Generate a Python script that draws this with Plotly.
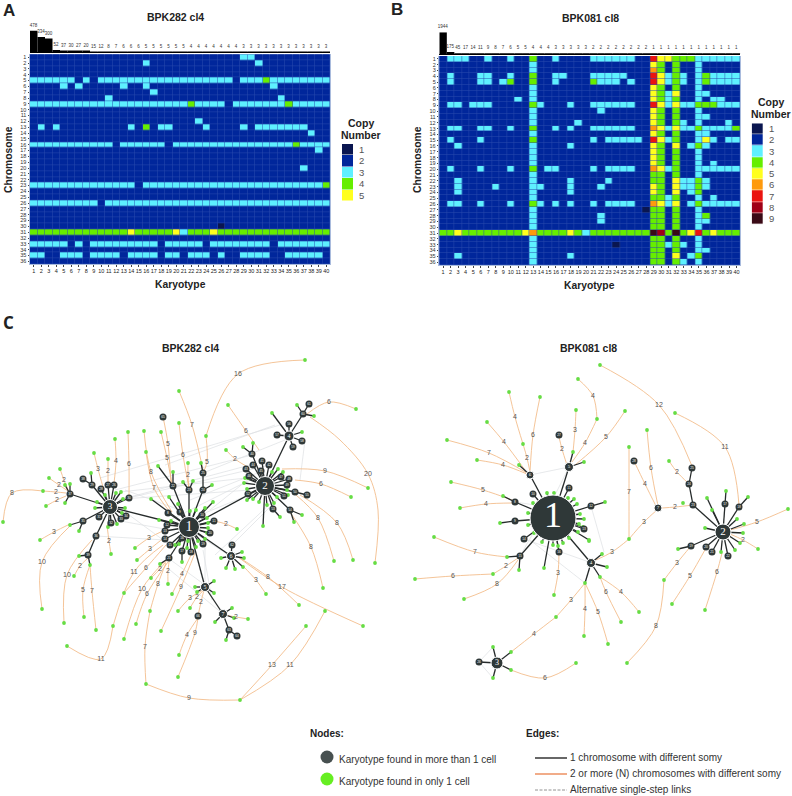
import plotly.graph_objects as go

# copy number per chromosome (rows) and karyotype (columns), blocks of 10 columns
ALL2 = "2222222222 2222222222 2222222222 2222222222"
COPY_A = [
    "2222222222 2222222222 2222222233 2222222222",
    "2222222222 2222232222 2222222222 3222222222",
    ALL2,
    ALL2,
    "3333332323 3333333333 3333333233 3433333333",
    "2222323222 2232232222 2222222222 2232222222",
    "2222222222 2222223222 2222222222 2222222222",
    "2222222222 3222222222 2222222222 2223222222",
    "3333333333 3333333333 3433332333 3333433333",
    ALL2,
    ALL2,
    "2222222222 2222222222 2232222222 2222222222",
    "2323222222 2223242332 2223222232 3333333222",
    "2222222222 2222222222 2222222222 2222222322",
    ALL2,
    "3333333333 3233333323 3333333333 3333343333",
    "2222222222 2222222222 2222222222 2222222232",
    ALL2,
    ALL2,
    "2222222222 2222222222 2222222222 2222223222",
    ALL2,
    ALL2,
    "3333333333 3333233333 3333333333 3333333334",
    ALL2,
    ALL2,
    "3333333332 3333333333 3333333333 3333333333",
    ALL2,
    ALL2,
    ALL2,
    "2222222222 2222222222 2222212222 2222222222",
    "4444444444 4445444445 3444544444 4444444444",
    ALL2,
    "3333323233 3333333233 3332333333 3323333333",
    ALL2,
    "3322333233 3323333233 2333232233 3322333332",
    ALL2,
]

COPY_B = [
    "2333223223 2242232222 3333332275 5444333333",
    "2222222222 2232222222 2222222254 2422322222",
    "2222222222 2232222222 2222222264 2422322222",
    "2322233223 2242233222 3333322275 3432343333",
    "2322233234 2242232222 4333232275 3432343333",
    "2222222222 2232222222 2222222254 2422322222",
    "2222222222 2232222222 2222222254 3522332222",
    "2222222222 3232222222 2222222254 3422323322",
    "2332333222 2243222322 3333332275 3533444333",
    "2222222222 2232222222 2322222254 2422322222",
    "2222222222 2232222222 2222222254 2422332222",
    "2222222222 2232222232 2222222254 2432322232",
    "2332233223 2242232322 3333332265 3533433334",
    "2222222222 2232222222 2222222254 2422332222",
    "2322232222 2242222222 3233333275 3422353233",
    "2232222222 2232222322 2222222254 2523432222",
    "2222222222 2232222222 2222222254 2422322222",
    "2222222222 2232222222 2222222254 2422322222",
    "2222222222 2232222222 2222222254 2422323222",
    "2322232223 2242332222 3233332265 3422333333",
    "2222222222 2232222222 2222222244 2422322222",
    "2232222222 2232222322 2232222244 2533432222",
    "2232222322 2233222322 2322222254 2533432222",
    "2232222222 2232222322 2222222254 2523422222",
    "2222222222 2232222222 2222222244 3422323222",
    "2332232223 2243232322 3233332265 3523433333",
    "2222222222 2232222222 2222222144 2422322222",
    "2222222222 2232222222 2322222244 2422342222",
    "2222222222 2232222222 2322222244 2422332222",
    "2222222222 2232222222 2222222244 2422322222",
    "4454444444 4564444543 4444444498 4945745444",
    "2222222222 2232222222 2222222244 2422322222",
    "2222222222 2232222222 2221222244 3432322222",
    "2222222222 2232222222 2222222244 2422332222",
    "2232222222 2232222322 2222222244 2523422222",
    "2222222222 2232222222 2222222244 2432322222",
]

# cells per karyotype
CELLS_A = [478, 334, 300, 52, 37, 30, 27, 20, 15, 12, 8, 7, 6, 6, 6, 5, 5, 5, 5, 5, 5,
           4, 4, 4, 4, 4, 4, 4, 3, 3, 3, 3, 3, 3, 3, 3, 3, 3, 3, 3]
CELLS_B = [1944, 175, 45, 17, 14, 11, 9, 8, 7, 6, 5, 5, 4, 4, 4, 3, 3, 3, 3, 3,
           2, 2, 2, 2, 2, 2, 2, 2, 1, 1, 1, 1, 1, 1, 1, 1, 1, 1, 1, 1]

KARYOTYPES = list(range(1, 41))
CHROMOSOMES = list(range(1, 37))
COPY_COLORS = ["#0a1650", "#00269b", "#5ef0ff", "#66ee00", "#ffff1e",
               "#ff9a0c", "#ea1410", "#a00016", "#3a0a16"]

# network A, positions
HUBS_A = [(189, 527), (265, 486), (110, 507), (289, 436), (205, 587), (231, 556), (223, 614)]
HUB_SIZES_A = [21, 19, 15, 10, 9, 9, 9]
HUB_FONT_A = [14, 11, 9, 6, 6, 6, 6]

DARK_LINKS_A = {
    (189, 527): [(168, 513), (180, 512), (202, 515), (214, 521), (167, 525), (165, 531), (165, 539),
                 (170, 545), (182, 538), (182, 551), (191, 552), (203, 544), (210, 533), (169, 558),
                 (110, 507), (265, 486), (231, 556), (205, 587), (173, 486), (189, 490), (203, 490)],
    (203, 490): [(203, 473)],
    (110, 507): [(114, 485), (108, 485), (101, 489), (92, 485), (129, 498), (99, 517), (111, 523),
                 (121, 519), (126, 516), (83, 521), (96, 536), (70, 494)],
    (92, 485): [(83, 479)],
    (96, 536): [(88, 555)],
    (265, 486): [(252, 454), (262, 461), (269, 465), (246, 469), (253, 465), (261, 471), (249, 476),
                 (281, 477), (289, 479), (287, 485), (295, 492), (284, 496), (248, 494), (273, 509),
                 (290, 510), (289, 436)],
    (295, 492): [(307, 495)],
    (289, 436): [(289, 424), (277, 435), (302, 441), (293, 447), (303, 414)],
    (303, 414): [(309, 404)],
    (231, 556): [(232, 545)],
    (205, 587): [(223, 614)],
    (223, 614): [(229, 630)],
    (229, 630): [(237, 636)],
}
GREEN_LINKS_A = {
    (189, 527): [(169, 497), (178, 504), (190, 511), (196, 510), (205, 508), (171, 521), (207, 518),
                 (208, 523), (208, 528), (207, 533), (205, 539), (198, 541), (196, 547), (188, 541),
                 (187, 548), (179, 544), (175, 545), (159, 520), (213, 502), (151, 499)],
    (173, 486): [(158, 466), (173, 472)],
    (189, 490): [(183, 482), (193, 481)],
    (203, 490): [(212, 485)],
    (203, 473): [(201, 463)],
    (169, 558): [(160, 564)],
    (182, 551): [(182, 562)],
    (110, 507): [(116, 493), (121, 492), (123, 499), (125, 508), (122, 513), (117, 524), (108, 527),
                 (95, 508), (97, 502), (105, 495)],
    (92, 485): [(91, 473)],
    (83, 521): [(70, 525), (79, 531)],
    (88, 555): [(79, 556), (90, 565)],
    (70, 494): [(65, 485), (70, 484), (65, 503)],
    (265, 486): [(278, 469), (283, 472), (272, 472), (245, 478), (244, 483), (247, 489), (253, 499),
                 (247, 500), (259, 502), (267, 505), (274, 503), (263, 526), (277, 497), (288, 495),
                 (287, 490), (248, 478)],
    (252, 454): [(243, 447), (253, 443)],
    (273, 509): [(280, 517)],
    (290, 510): [(302, 515), (294, 522)],
    (289, 436): [(272, 413), (302, 432)],
    (303, 414): [(314, 416), (297, 405)],
    (231, 556): [(221, 558), (226, 568), (235, 569), (243, 567), (244, 558), (242, 552)],
    (205, 587): [(195, 587), (214, 581), (214, 593), (197, 592)],
    (223, 614): [(232, 608), (215, 622), (234, 618)],
    (229, 630): [(226, 640)],
}
FREE_GREEN_A = [(305, 360), (179, 391), (228, 405), (356, 409), (115, 439), (128, 432), (144, 431),
                (161, 432), (179, 423), (206, 436), (94, 453), (108, 459), (60, 469), (49, 478),
                (43, 491), (46, 506), (146, 452), (188, 463), (226, 450), (368, 488), (351, 497),
                (3, 522), (40, 540), (42, 609), (64, 623), (84, 617), (96, 630), (74, 576), (67, 646),
                (113, 626), (124, 639), (124, 593), (136, 624), (146, 684), (150, 611), (161, 631),
                (172, 594), (168, 584), (151, 578), (137, 560), (135, 548), (111, 554), (178, 677),
                (179, 655), (178, 611), (190, 608), (248, 619), (266, 594), (299, 605), (323, 588),
                (325, 611), (363, 626), (306, 626), (334, 561), (353, 560), (375, 563), (237, 529),
                (240, 700)]
EXTRA_DARK_A = [(163, 417), (198, 616)]

ORANGE_A = [
    [(305, 360), (238, 374), (206, 436)], [(206, 436), (207, 462), (203, 473)],
    [(179, 391), (192, 425), (203, 470)], [(228, 405), (246, 431), (259, 450)],
    [(226, 450), (235, 459), (246, 466)], [(356, 409), (329, 402), (307, 414)],
    [(368, 488), (325, 471), (282, 469)], [(351, 497), (321, 484), (295, 480)],
    [(375, 563), (378, 510), (368, 474), (340, 440), (310, 417)],
    [(353, 560), (337, 523), (300, 495)], [(334, 561), (318, 518), (296, 495)],
    [(323, 588), (311, 547), (290, 512)], [(363, 626), (282, 587), (238, 557)],
    [(299, 605), (268, 577), (240, 558)], [(266, 594), (256, 580), (243, 566)],
    [(325, 611), (290, 665), (240, 700)], [(306, 626), (272, 665), (240, 700)],
    [(240, 700), (189, 698), (146, 684)], [(146, 684), (145, 647), (150, 611)],
    [(150, 611), (158, 584), (166, 563)], [(67, 646), (101, 659), (113, 626)],
    [(113, 626), (134, 572), (163, 545)], [(124, 639), (142, 589), (166, 560)],
    [(136, 624), (147, 594), (168, 562)], [(124, 593), (146, 568), (166, 545)],
    [(161, 631), (181, 587), (195, 553)], [(172, 594), (182, 574), (191, 555)],
    [(168, 584), (168, 571), (170, 555)], [(151, 578), (160, 569), (167, 560)],
    [(137, 560), (150, 549), (165, 537)], [(135, 548), (149, 538), (165, 530)],
    [(178, 677), (195, 633), (198, 618)], [(179, 655), (187, 635), (198, 618)],
    [(178, 611), (190, 598), (203, 590)], [(190, 608), (197, 597), (204, 590)],
    [(198, 616), (201, 602), (204, 590)], [(248, 619), (236, 617), (225, 615)],
    [(237, 529), (226, 524), (214, 521)], [(111, 554), (109, 541), (107, 525)],
    [(40, 540), (54, 532), (70, 524)], [(42, 609), (42, 562), (72, 524)],
    [(64, 623), (67, 575), (92, 540)], [(84, 617), (83, 590), (90, 565)],
    [(96, 630), (92, 591), (90, 565)], [(74, 576), (80, 566), (88, 558)],
    [(3, 522), (12, 493), (43, 491)], [(43, 491), (56, 492), (66, 493)],
    [(49, 478), (59, 485), (68, 491)], [(60, 469), (64, 480), (68, 490)],
    [(46, 506), (57, 500), (66, 496)], [(94, 453), (98, 469), (103, 487)],
    [(108, 459), (108, 471), (108, 483)], [(115, 439), (116, 461), (114, 483)],
    [(128, 432), (129, 464), (129, 495)], [(144, 431), (151, 472), (172, 512)],
    [(146, 452), (154, 488), (170, 512)], [(163, 417), (168, 444), (171, 484)],
    [(161, 432), (167, 458), (172, 484)], [(179, 423), (183, 455), (189, 488)],
    [(188, 463), (188, 475), (189, 488)],
]
ORANGE_LABELS_A = ["16", "5", "7", "6", "2", "6", "9", "6", "20", "8", "8", "8", "17", "8", "3",
                   "11", "13", "9", "7", "8", "11", "11", "10", "6", "6", "9", "4", "2", "2", "3", "3",
                   "9", "4", "3", "2", "2", "2", "2", "2", "3", "10", "10", "5", "7", "2", "8", "2",
                   "2", "2", "2", "3", "2", "4", "6", "8", "7", "5", "5", "6", "2"]
GREY_A = [[(100, 478), (280, 425)], [(115, 490), (252, 455)], [(130, 497), (250, 465)],
          [(120, 500), (270, 465)], [(165, 465), (275, 425)], [(170, 520), (250, 480)],
          [(190, 500), (265, 470)], [(203, 473), (285, 440)], [(210, 510), (250, 478)],
          [(200, 515), (285, 480)], [(96, 536), (165, 540)], [(115, 520), (170, 530)],
          [(125, 512), (170, 545)], [(180, 510), (125, 490)], [(190, 530), (230, 556)],
          [(205, 540), (205, 587)], [(168, 558), (205, 585)], [(170, 570), (223, 614)],
          [(215, 555), (285, 490)], [(232, 545), (287, 490)], [(305, 440), (300, 480)],
          [(203, 550), (212, 600)], [(120, 492), (246, 478)], [(108, 500), (250, 490)]]

# network B
HUBS_B = [(553, 518), (723, 532), (497, 663), (591, 563), (569, 467), (530, 475), (658, 508)]
HUB_SIZES_B = [46, 16, 12, 9, 9, 8, 8]
HUB_FONT_B = [36, 11, 8, 5, 5, 5, 5]

DARK_LINKS_B = {
    (553, 518): [(515, 502), (515, 521), (533, 494), (569, 488), (591, 506), (584, 529), (524, 539),
                 (520, 556), (559, 552), (530, 475), (569, 467), (591, 563)],
    (723, 532): [(725, 504), (739, 507), (691, 546), (706, 547), (712, 552), (728, 556), (693, 505)],
    (693, 505): [(689, 484)],
    (689, 484): [(692, 468)],
    (497, 663): [(479, 662)],
}
GREEN_LINKS_B = {
    (553, 518): [(547, 493), (554, 493), (568, 498), (574, 499), (577, 504), (580, 514), (584, 519),
                 (579, 524), (583, 527), (578, 532), (589, 540), (569, 538), (563, 543), (558, 546),
                 (553, 545), (544, 568), (542, 542), (534, 533), (528, 525), (528, 513), (533, 503)],
    (515, 502): [(503, 496)],
    (515, 521): [(500, 523)],
    (520, 556): [(507, 557), (519, 570)],
    (530, 475): [(519, 465)],
    (569, 467): [(573, 452), (584, 462)],
    (591, 506): [(605, 502)],
    (591, 563): [(602, 554), (607, 567), (600, 577), (585, 583)],
    (723, 532): [(743, 533), (744, 524), (737, 519), (705, 528), (721, 552), (735, 550), (740, 543),
                 (707, 498), (712, 510)],
    (725, 504): [(726, 491)],
    (739, 507): [(748, 497)],
    (691, 546): [(678, 549)],
    (497, 663): [(511, 652), (493, 647), (511, 670), (493, 678)],
}
FREE_GREEN_B = [(600, 365), (675, 413), (578, 379), (509, 392), (540, 397), (487, 422), (576, 410),
                (597, 419), (625, 411), (447, 440), (477, 460), (523, 444), (451, 482), (460, 508),
                (647, 430), (629, 447), (669, 461), (683, 503), (788, 509), (434, 537), (493, 574),
                (415, 579), (464, 599), (554, 595), (629, 539), (639, 612), (621, 622), (608, 644),
                (584, 636), (556, 617), (576, 663), (627, 663), (664, 580), (672, 604), (705, 610),
                (758, 549), (589, 541)]
EXTRA_DARK_B = [(559, 435), (634, 461)]

ORANGE_B = [
    [(600, 365), (659, 405), (692, 466)], [(675, 413), (725, 447), (739, 505)],
    [(578, 379), (593, 396), (597, 419)], [(576, 410), (575, 430), (573, 452)],
    [(597, 419), (585, 443), (572, 462)], [(625, 411), (606, 437), (575, 465)],
    [(509, 392), (515, 417), (523, 444)], [(540, 397), (533, 435), (530, 472)],
    [(487, 422), (504, 442), (525, 470)], [(523, 444), (527, 458), (530, 472)],
    [(447, 440), (489, 453), (527, 473)], [(477, 460), (503, 465), (527, 474)],
    [(559, 437), (562, 449), (567, 465)], [(451, 482), (483, 490), (512, 500)],
    [(460, 508), (486, 504), (512, 503)], [(647, 430), (651, 468), (658, 506)],
    [(634, 461), (645, 484), (656, 506)], [(629, 447), (629, 492), (629, 539)],
    [(629, 539), (644, 522), (657, 510)], [(662, 508), (675, 507), (693, 505)],
    [(669, 461), (677, 472), (688, 483)], [(788, 509), (757, 522), (730, 530)],
    [(434, 537), (475, 552), (507, 557)], [(493, 574), (506, 566), (518, 558)],
    [(415, 579), (453, 576), (493, 574)], [(464, 599), (497, 584), (518, 560)],
    [(559, 553), (558, 573), (554, 595)], [(629, 539), (612, 552), (596, 560)],
    [(585, 583), (571, 600), (556, 617)], [(556, 617), (534, 634), (511, 652)],
    [(511, 670), (545, 678), (576, 663)], [(585, 583), (585, 609), (584, 636)],
    [(585, 583), (598, 612), (608, 644)], [(600, 577), (606, 592), (621, 622)],
    [(600, 577), (621, 592), (639, 612)], [(664, 580), (656, 626), (627, 663)],
    [(664, 580), (677, 563), (691, 546)], [(672, 604), (690, 576), (706, 548)],
    [(705, 610), (717, 572), (722, 553)], [(758, 549), (743, 540), (730, 534)],
]
ORANGE_LABELS_B = ["12", "11", "4", "3", "4", "5", "4", "6", "4", "2", "7", "4", "2", "5", "4",
                   "6", "4", "7", "3", "2", "2", "5", "7", "2", "6", "8", "3", "3", "3", "4", "6",
                   "4", "5", "6", "4", "8", "3", "5", "6", "2"]
GREY_B = [[(530, 475), (569, 467)], [(569, 467), (555, 495)], [(591, 506), (604, 552)],
          [(524, 539), (592, 563)], [(530, 540), (585, 583)], [(535, 530), (520, 556)],
          [(479, 662), (493, 678)], [(479, 662), (493, 647)], [(515, 502), (535, 505)]]

# legend
LEGEND_NODES_X = [327, 327]
LEGEND_NODES_Y = [757, 779]
LEGEND_LINE_X = [535, 567]
LEGEND_LINE_Y = [758, 774, 790]


def rows_to_z(rows):
    return [[int(c) for c in r.replace(" ", "")] for r in rows]


def px_x(v):
    return v / 792


def px_y(v):
    return 1 - v / 796


def color_steps():
    steps = []
    for i, c in enumerate(COPY_COLORS):
        steps.append([i / 9, c])
        steps.append([(i + 1) / 9, c])
    return steps


def flat_lines(paths):
    xs, ys = [], []
    for p in paths:
        xs += [q[0] for q in p] + [None]
        ys += [q[1] for q in p] + [None]
    return xs, ys


def link_paths(links):
    return [[k, v] for k, kids in links.items() for v in kids]


fig = go.Figure()


def add_panel(n, z, cells, left, right, top, bottom, bar_top, bar_bottom, leg_left, leg_right, leg_top, leg_bottom, levels):
    # axis numbers: n heatmap, n+1 bars, n+2 colour key
    names = ["" if n == 1 else str(n), str(n + 1), str(n + 2)]
    fig.add_trace(go.Heatmap(z=z, x=KARYOTYPES, y=CHROMOSOMES, colorscale=color_steps(), zmin=0.5, zmax=9.5,
                             showscale=False, xgap=0.5, ygap=0.5, xaxis="x" + names[0], yaxis="y" + names[0]))
    fig.add_trace(go.Bar(x=KARYOTYPES, y=cells, width=1, marker=dict(color="black", line_width=0), text=cells,
                         textposition="outside", cliponaxis=False, textangle=0, constraintext="none",
                         textfont=dict(size=4.5, color="#333333"), xaxis="x" + names[1], yaxis="y" + names[1]))
    fig.add_trace(go.Heatmap(z=[[v] for v in levels], x=[0], y=levels, colorscale=color_steps(), zmin=0.5, zmax=9.5,
                             showscale=False, ygap=0.5, xaxis="x" + names[2], yaxis="y" + names[2]))
    # lighter blue shows through the gaps between the cells
    fig.add_shape(type="rect", xref="x%s domain" % names[0], yref="y%s domain" % names[0], x0=0, x1=1, y0=0, y1=1,
                  fillcolor="#2a4cae", line_width=0, layer="below")
    fig.update_layout({
        "xaxis" + names[0]: dict(domain=[px_x(left), px_x(right)], range=[0.5, 40.5], tickmode="array",
                                 tickvals=KARYOTYPES, tickfont=dict(size=5.5, color="#222222"), ticks="outside", ticklen=1.5,
                                 tickwidth=0.5, showline=True, linecolor="#a9bbdd", linewidth=1, showgrid=False,
                                 zeroline=False, anchor="y" + names[0], tickangle=0),
        "yaxis" + names[0]: dict(domain=[px_y(bottom), px_y(top)], range=[36.5, 0.5], tickmode="array",
                                 tickvals=CHROMOSOMES, tickfont=dict(size=5.5, color="#333333"), ticks="outside", ticklen=1.5,
                                 tickwidth=0.5, showline=True, mirror=True, linecolor="#a9bbdd", linewidth=1,
                                 showgrid=False, zeroline=False, anchor="x" + names[0]),
        "xaxis" + names[1]: dict(domain=[px_x(left), px_x(right)], range=[0.5, 40.5], showticklabels=False, ticks="",
                                 showgrid=False, zeroline=False, showline=True, linecolor="black", linewidth=1,
                                 anchor="y" + names[1]),
        "yaxis" + names[1]: dict(domain=[px_y(bar_bottom), px_y(bar_top)], range=[0, max(cells)], visible=False,
                                 anchor="x" + names[1]),
        "xaxis" + names[2]: dict(domain=[px_x(leg_left), px_x(leg_right)], visible=False, anchor="y" + names[2]),
        "yaxis" + names[2]: dict(domain=[px_y(leg_bottom), px_y(leg_top)], range=[levels[-1] + 0.5, 0.5], side="right",
                                 tickmode="array", tickvals=levels, tickfont=dict(size=9.5, color="#555555"), ticks="",
                                 ticklabelstandoff=5, showgrid=False, zeroline=False, showline=False, anchor="x" + names[2]),
    })


add_panel(1, rows_to_z(COPY_A), CELLS_A, 30, 330, 54.3, 264.3, 30.5, 52.3, 342, 353, 144, 201, [1, 2, 3, 4, 5])
add_panel(4, rows_to_z(COPY_B), CELLS_B, 439.3, 740.3, 56, 265, 32.3, 54, 751.7, 763, 123.3, 224.3,
          [1, 2, 3, 4, 5, 6, 7, 8, 9])


def add_network(hubs, hub_sizes, hub_font, dark_links, green_links, free_green, extra_dark, orange, labels, grey):
    net = dict(xaxis="x7", yaxis="y7", hoverinfo="skip")
    gx, gy = flat_lines(grey)
    fig.add_trace(go.Scatter(x=gx, y=gy, mode="lines", line=dict(color="#dcdfe3", width=0.7), **net))
    ox, oy = flat_lines(orange)
    fig.add_trace(go.Scatter(x=ox, y=oy, mode="lines", line=dict(color="#f3bd8c", width=0.9, shape="spline", smoothing=1.0), **net))
    bx, by = flat_lines(link_paths(dark_links) + link_paths(green_links))
    fig.add_trace(go.Scatter(x=bx, y=by, mode="lines", line=dict(color="#262b2b", width=1.3), **net))
    greens = list(free_green) + [v for kids in green_links.values() for v in kids]
    fig.add_trace(go.Scatter(x=[p[0] for p in greens], y=[p[1] for p in greens], mode="markers",
                             marker=dict(color="#66dd44", size=3.8), **net))
    darks = []
    for k, kids in dark_links.items():
        for p in [k] + kids:
            if p not in hubs and p not in darks:
                darks.append(p)
    for p in extra_dark:
        darks.append(p)
    fig.add_trace(go.Scatter(x=[p[0] for p in darks], y=[p[1] for p in darks], mode="markers+text",
                             text=[str(i + 8) for i in range(len(darks))], textposition="middle center",
                             textfont=dict(size=3.2, color="white"),
                             marker=dict(color="#2f3838", size=7, opacity=1), **net))
    fig.add_trace(go.Scatter(x=[p[0] for p in hubs], y=[p[1] for p in hubs], mode="markers+text",
                             text=[str(i + 1) for i in range(len(hubs))], textposition="middle center",
                             textfont=dict(size=hub_font, color="white", family="Liberation Serif"),
                             marker=dict(color="#2f3838", size=hub_sizes, opacity=1), **net))
    fig.add_trace(go.Scatter(x=[p[len(p) // 2][0] for p in orange], y=[p[len(p) // 2][1] for p in orange],
                             mode="text", text=labels, textposition="middle center",
                             textfont=dict(size=7, color="#555555"), **net))


add_network(HUBS_A, HUB_SIZES_A, HUB_FONT_A, DARK_LINKS_A, GREEN_LINKS_A, FREE_GREEN_A, EXTRA_DARK_A,
            ORANGE_A, ORANGE_LABELS_A, GREY_A)
add_network(HUBS_B, HUB_SIZES_B, HUB_FONT_B, DARK_LINKS_B, GREEN_LINKS_B, FREE_GREEN_B, EXTRA_DARK_B,
            ORANGE_B, ORANGE_LABELS_B, GREY_B)

# legend at the bottom
fig.add_trace(go.Scatter(x=LEGEND_NODES_X, y=LEGEND_NODES_Y, mode="markers", xaxis="x7", yaxis="y7",
                         marker=dict(color=["#475050", "#66ee22"], size=13)))
for yv, col, width, dash in zip(LEGEND_LINE_Y, ["black", "#e8743a", "#777777"], [1.2, 1.2, 0.8], ["solid", "solid", "3px,1.5px"]):
    fig.add_trace(go.Scatter(x=LEGEND_LINE_X, y=[yv, yv], mode="lines", xaxis="x7", yaxis="y7",
                             line=dict(color=col, width=width, dash=dash)))


def note(x, y, text, size=9, bold=False, family="Liberation Sans", color="#222222", angle=0, anchor="center"):
    fig.add_annotation(x=x, y=y, xref="x7", yref="y7", text="<b>%s</b>" % text if bold else text, showarrow=False,
                       xanchor=anchor, yanchor="middle", textangle=angle, font=dict(size=size, family=family, color=color))


note(9, 10, "A", 17, True)
note(397, 9, "B", 17, True)
note(8, 322, "C", 17, True, "Open Sans")
note(175, 17, "BPK282 cl4", 10.5, True)
note(590, 18, "BPK081 cl8", 10.5, True)
note(190, 348, "BPK282 cl4", 10.5, True)
note(588, 348, "BPK081 cl8", 10.5, True)
note(180, 284, "Karyotype", 10.3, True)
note(589, 285, "Karyotype", 10.3, True)
note(8, 160, "Chromosome", 10.3, True, angle=-90)
note(417, 160, "Chromosome", 10.3, True, angle=-90)
note(361, 123, "Copy", 10.5, True)
note(361, 134.5, "Number", 10.5, True)
note(771, 102, "Copy", 10.5, True)
note(771, 113.5, "Number", 10.5, True)
note(308, 733, "Nodes:", 10, True, anchor="left")
note(524, 733, "Edges:", 10, True, anchor="left")
note(337, 759, "Karyotype found in more than 1 cell", 10, color="#333333", anchor="left")
note(337, 781, "Karyotype found in only 1 cell", 10, color="#333333", anchor="left")
note(568, 757, "1 chromosome with different somy", 10, color="#333333", anchor="left")
note(568, 773, "2 or more (N) chromosomes with different somy", 10, color="#333333", anchor="left")
note(568, 789, "Alternative single-step links", 10, color="#333333", anchor="left")

fig.update_layout(
    width=792, height=796, margin=dict(l=0, r=0, t=0, b=0), showlegend=False,
    paper_bgcolor="white", plot_bgcolor="rgba(0,0,0,0)", font=dict(family="Liberation Sans"),
    xaxis7=dict(domain=[0, 1], range=[0, 792], visible=False, anchor="y7", fixedrange=True),
    yaxis7=dict(domain=[0, 1], range=[796, 0], visible=False, anchor="x7", fixedrange=True),
)

fig.write_html("out.html", config={"displayModeBar": False},
               post_script="document.body.style.margin='0';document.body.style.overflow='hidden';")
